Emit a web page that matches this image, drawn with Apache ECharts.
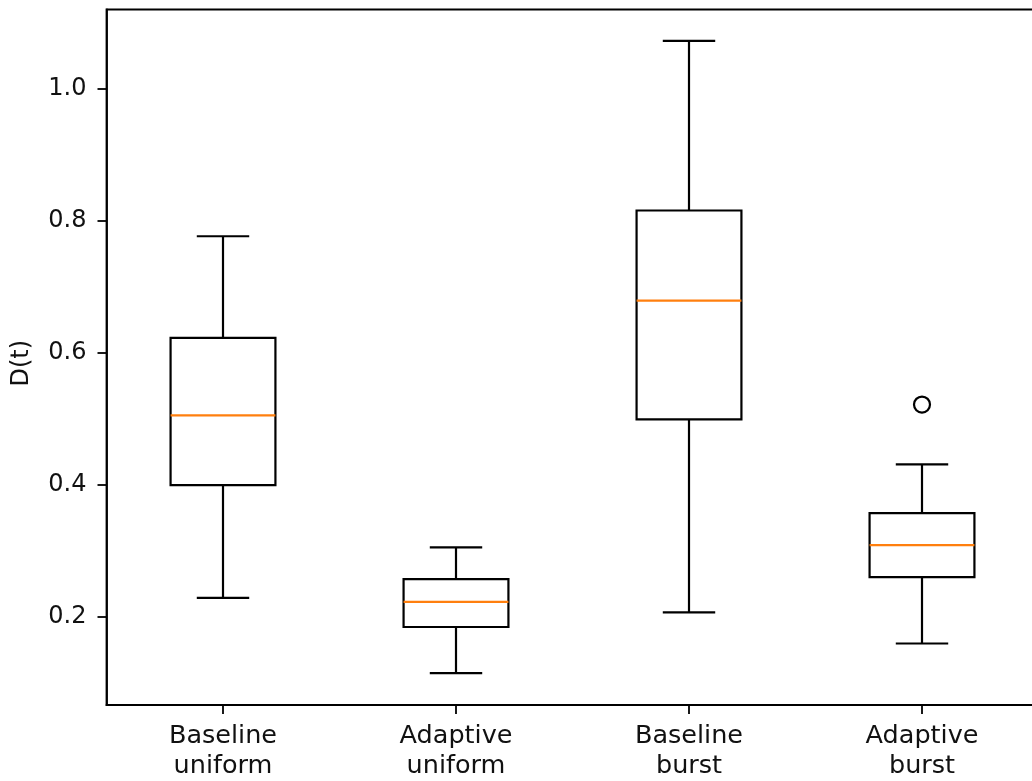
<!DOCTYPE html>
<html>
<head>
<meta charset="utf-8">
<script src="https://cdn.jsdelivr.net/npm/echarts@6/dist/echarts.min.js"></script>
<style>
  html, body { margin: 0; padding: 0; background: #fff; overflow: hidden; }
  #chart { width: 1040px; height: 781px; }
</style>
</head>
<body>
<div id="chart"></div>
<script>
// Box statistics per group: lower whisker, Q1, median, Q3, upper whisker
const categories = ['Baseline\nuniform', 'Adaptive\nuniform', 'Baseline\nburst', 'Adaptive\nburst'];
const lowerWhisker = [0.228, 0.114, 0.206, 0.159];
const q1 = [0.399, 0.184, 0.4985, 0.2595];
const median = [0.5045, 0.222, 0.6785, 0.308];
const q3 = [0.622, 0.2565, 0.815, 0.3565];
const upperWhisker = [0.776, 0.3045, 1.072, 0.4305];
// Points beyond the whiskers: [group index, value]
const outliers = [[3, 0.521]];
const yTicks = [0.2, 0.4, 0.6, 0.8, 1.0];

const boxData = categories.map((c, i) => [i, lowerWhisker[i], q1[i], median[i], q3[i], upperWhisker[i]]);

const LINE = 2.2;
const FONT = 'DejaVu Sans';
const TEXT = '#111';

function renderBox(params, api) {
  const x = api.value(0);
  const band = api.size([1, 0])[0];
  const halfBox = band * 0.45 / 2;
  const halfCap = halfBox / 2;
  const pLow = api.coord([x, api.value(1)]);
  const pQ1 = api.coord([x, api.value(2)]);
  const pMed = api.coord([x, api.value(3)]);
  const pQ3 = api.coord([x, api.value(4)]);
  const pHigh = api.coord([x, api.value(5)]);
  const cx = pQ1[0];
  const black = { stroke: '#000', lineWidth: LINE, fill: null };
  return {
    type: 'group',
    children: [
      { type: 'line', shape: { x1: cx, y1: pQ1[1], x2: cx, y2: pLow[1] }, style: black },
      { type: 'line', shape: { x1: cx, y1: pQ3[1], x2: cx, y2: pHigh[1] }, style: black },
      { type: 'line', shape: { x1: cx - halfCap, y1: pLow[1], x2: cx + halfCap, y2: pLow[1] }, style: black },
      { type: 'line', shape: { x1: cx - halfCap, y1: pHigh[1], x2: cx + halfCap, y2: pHigh[1] }, style: black },
      { type: 'rect', shape: { x: cx - halfBox, y: pQ3[1], width: halfBox * 2, height: pQ1[1] - pQ3[1] },
        style: { stroke: '#000', lineWidth: LINE, fill: 'none', lineJoin: 'miter' } },
      { type: 'line', shape: { x1: cx - halfBox, y1: pMed[1], x2: cx + halfBox, y2: pMed[1] },
        style: { stroke: '#ff7f0e', lineWidth: LINE } }
    ]
  };
}

const chart = echarts.init(document.getElementById('chart'), null, { renderer: 'canvas' });
chart.setOption({
  animation: false,
  backgroundColor: '#fff',
  grid: {
    left: 106.5, top: 9.5, width: 932, height: 696.5,
    show: true, borderColor: '#000', borderWidth: 1.8, backgroundColor: 'transparent'
  },
  xAxis: {
    type: 'category',
    data: categories,
    boundaryGap: true,
    axisLine: { show: true, lineStyle: { color: '#000', width: 1.8 } },
    axisTick: { show: true, alignWithLabel: true, length: 9, lineStyle: { color: '#000', width: 1.8 } },
    axisLabel: { color: TEXT, fontFamily: FONT, fontSize: 25.5, lineHeight: 30, margin: 16, interval: 0 },
    splitLine: { show: false }
  },
  yAxis: {
    type: 'value',
    min: 0.0658,
    max: 1.1195,
    name: 'D(t)',
    nameLocation: 'middle',
    nameRotate: 90,
    nameGap: 73,
    nameTextStyle: { color: TEXT, fontFamily: FONT, fontSize: 24, padding: [0, 12, 0, 0] },
    axisLine: { show: true, lineStyle: { color: '#000', width: 1.8 } },
    axisTick: { show: true, length: 9, lineStyle: { color: '#000', width: 1.8 }, customValues: yTicks },
    axisLabel: {
      color: TEXT, fontFamily: FONT, fontSize: 24, margin: 20,
      customValues: yTicks,
      formatter: v => v.toFixed(1)
    },
    splitLine: { show: false }
  },
  series: [
    {
      type: 'custom',
      renderItem: renderBox,
      encode: { x: 0, y: [1, 2, 3, 4, 5] },
      data: boxData,
      clip: false
    },
    {
      type: 'scatter',
      data: outliers,
      symbol: 'circle',
      symbolSize: 16,
      itemStyle: { color: '#fff', borderColor: '#000', borderWidth: 2.2, opacity: 1 }
    }
  ]
});
</script>
</body>
</html>
